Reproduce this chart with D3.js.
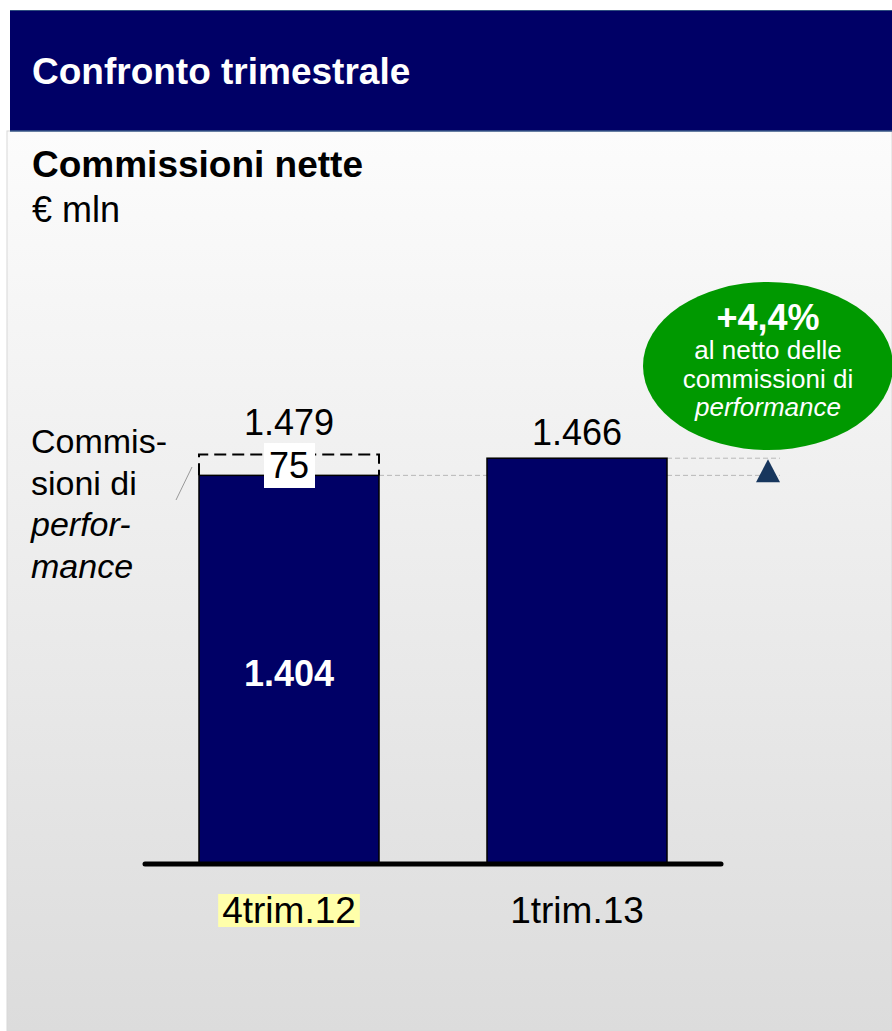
<!DOCTYPE html>
<html>
<head>
<meta charset="utf-8">
<script src="https://cdn.jsdelivr.net/npm/d3@7"></script>
<style>
  body { margin: 0; background: #ffffff; }
  text { font-family: "Liberation Sans", Arial, sans-serif; }
</style>
</head>
<body>
<div id="chart"></div>
<script>
// Data
var categories = ['4trim.12', '1trim.13'];
var baseValues = [1404, 1466];          // commissioni al netto della performance
var perfValues = [75, 0];               // commissioni di performance
var totalLabels = ['1.479', '1.466'];
var baseLabels = ['1.404', ''];
var perfLabels = ['75', ''];
var noteLines = ['Commis-', 'sioni di', 'perfor-', 'mance'];
var bubbleLines = ['+4,4%', 'al netto delle', 'commissioni di', 'performance'];

var W = 892, H = 1031;

var svg = d3.select('#chart')
    .append('svg')
    .attr('width', W)
    .attr('height', H);

// Background gradient for the panel
var defs = svg.append('defs');
var grad = defs.append('linearGradient')
    .attr('id', 'panelGrad')
    .attr('x1', 0).attr('y1', 0).attr('x2', 0).attr('y2', 1);
grad.append('stop').attr('offset', '0%').attr('stop-color', '#fcfcfc');
grad.append('stop').attr('offset', '100%').attr('stop-color', '#dcdcdc');

svg.append('rect')
    .attr('x', 7).attr('y', 131)
    .attr('width', W - 7).attr('height', H - 131)
    .attr('fill', 'url(#panelGrad)')
    .attr('stroke', '#d8d8d8')
    .attr('stroke-width', 1);

// Header band
svg.append('rect')
    .attr('x', 10).attr('y', 10)
    .attr('width', W - 10).attr('height', 121)
    .attr('fill', '#000066');
svg.append('line')
    .attr('x1', 10).attr('x2', W).attr('y1', 10.5).attr('y2', 10.5)
    .attr('stroke', '#2f4f7f').attr('stroke-width', 1);
svg.append('line')
    .attr('x1', 10).attr('x2', W).attr('y1', 131).attr('y2', 131)
    .attr('stroke', '#3a5a8a').attr('stroke-width', 1.5);

svg.append('text')
    .attr('x', 32).attr('y', 84)
    .attr('fill', '#ffffff')
    .style('font-size', '37px')
    .style('font-weight', 'bold')
    .text('Confronto trimestrale');

svg.append('text')
    .attr('x', 32).attr('y', 177)
    .attr('fill', '#000000')
    .style('font-size', '37px')
    .style('font-weight', 'bold')
    .text('Commissioni nette');

svg.append('text')
    .attr('x', 32).attr('y', 222)
    .attr('fill', '#000000')
    .style('font-size', '36px')
    .text('€ mln');

// Scales
var x = d3.scaleBand()
    .domain(categories)
    .range([145, 721])
    .paddingInner(0.375)
    .paddingOuter(0.1875);

var y = d3.scaleLinear()
    .domain([0, 1500])
    .range([864, 864 - 415.2]);

var data = categories.map(function(c, i) {
  return {cat: c, base: baseValues[i], perf: perfValues[i], total: baseValues[i] + perfValues[i],
          totalLabel: totalLabels[i], baseLabel: baseLabels[i], perfLabel: perfLabels[i]};
});

var g = svg.append('g');

// Grey dashed reference lines from bar tops to the triangle
var refEnd = 780;
data.forEach(function(d) {
  g.append('line')
      .attr('x1', x(d.cat) + x.bandwidth())
      .attr('x2', refEnd)
      .attr('y1', y(d.base))
      .attr('y2', y(d.base))
      .attr('stroke', '#b8b8b8')
      .attr('stroke-width', 1)
      .attr('stroke-dasharray', '5,3');
});

// Bars
g.selectAll('.bar')
    .data(data)
    .enter().append('rect')
    .attr('class', 'bar')
    .attr('x', function(d) { return x(d.cat); })
    .attr('y', function(d) { return y(d.base); })
    .attr('width', x.bandwidth())
    .attr('height', function(d) { return y(0) - y(d.base); })
    .attr('fill', '#000066')
    .attr('stroke', '#000000')
    .attr('stroke-width', 1.5);

// Dashed performance box
data.filter(function(d) { return d.perf > 0; }).forEach(function(d) {
  var x0 = x(d.cat), x1 = x(d.cat) + x.bandwidth();
  var yt = y(d.total), yb = y(d.base);
  var mid = (yt + yb) / 2;
  g.append('path')
      .attr('d', 'M' + x0 + ',' + yb + 'V' + yt + 'H' + x1 + 'V' + yb)
      .attr('fill', 'none')
      .attr('stroke', '#000000')
      .attr('stroke-width', 2)
      .attr('stroke-dasharray', '12,6');

  var cx = x0 + x.bandwidth() / 2;
  g.append('rect')
      .attr('x', cx - 25).attr('y', mid - 22)
      .attr('width', 51).attr('height', 45)
      .attr('fill', '#ffffff');
  g.append('text')
      .attr('x', cx).attr('y', mid + 13)
      .attr('text-anchor', 'middle')
      .style('font-size', '36px')
      .text(d.perfLabel);

  // white base label inside the bar
  g.append('text')
      .attr('x', cx).attr('y', (y(0) + y(d.base)) / 2 + 16)
      .attr('text-anchor', 'middle')
      .attr('fill', '#ffffff')
      .style('font-size', '36px')
      .style('font-weight', 'bold')
      .text(d.baseLabel);
});

// Total labels above bars
g.selectAll('.total')
    .data(data)
    .enter().append('text')
    .attr('class', 'total')
    .attr('x', function(d) { return x(d.cat) + x.bandwidth() / 2; })
    .attr('y', function(d) { return y(d.total) - (d.perf > 0 ? 20 : 13); })
    .attr('text-anchor', 'middle')
    .style('font-size', '36px')
    .text(function(d) { return d.totalLabel; });

// Baseline
g.append('line')
    .attr('x1', x.range()[0]).attr('x2', x.range()[1])
    .attr('y1', y(0)).attr('y2', y(0))
    .attr('stroke', '#000000')
    .attr('stroke-width', 5)
    .attr('stroke-linecap', 'round');

// Category labels, first one highlighted
data.forEach(function(d, i) {
  var cx = x(d.cat) + x.bandwidth() / 2;
  var t = g.append('text')
      .attr('x', cx).attr('y', 923)
      .attr('text-anchor', 'middle')
      .style('font-size', '37px')
      .text(d.cat);
  if (i === 0) {
    var bb = t.node().getBBox();
    g.insert('rect', function() { return t.node(); })
        .attr('x', bb.x - 4).attr('y', 894)
        .attr('width', bb.width + 8).attr('height', 33)
        .attr('fill', '#ffffaa');
  }
});

// Left annotation
var note = svg.append('g');
noteLines.forEach(function(s, i) {
  note.append('text')
      .attr('x', 31).attr('y', 453 + i * 41.5)
      .style('font-size', '34px')
      .style('font-style', i >= 2 ? 'italic' : 'normal')
      .text(s);
});
note.append('line')
    .attr('x1', 176).attr('y1', 500)
    .attr('x2', 192).attr('y2', 467)
    .attr('stroke', '#999999')
    .attr('stroke-width', 1);

// Triangle marker
var triX = 768, triTop = y(baseValues[1]) + 1, triBot = y(baseValues[0]) + 7;
svg.append('path')
    .attr('d', 'M' + triX + ',' + triTop + 'L' + (triX + 12) + ',' + triBot + 'L' + (triX - 12) + ',' + triBot + 'Z')
    .attr('fill', '#17365d');

// Green bubble
svg.append('ellipse')
    .attr('cx', 768).attr('cy', 366)
    .attr('rx', 125).attr('ry', 84)
    .attr('fill', '#009900');

var bubbleY = [330, 359, 388, 416];
bubbleLines.forEach(function(s, i) {
  svg.append('text')
      .attr('x', 768).attr('y', bubbleY[i])
      .attr('text-anchor', 'middle')
      .attr('fill', '#ffffff')
      .style('font-size', i === 0 ? '36px' : '26px')
      .style('font-weight', i === 0 ? 'bold' : 'normal')
      .style('font-style', i === 3 ? 'italic' : 'normal')
      .text(s);
});
</script>
</body>
</html>
